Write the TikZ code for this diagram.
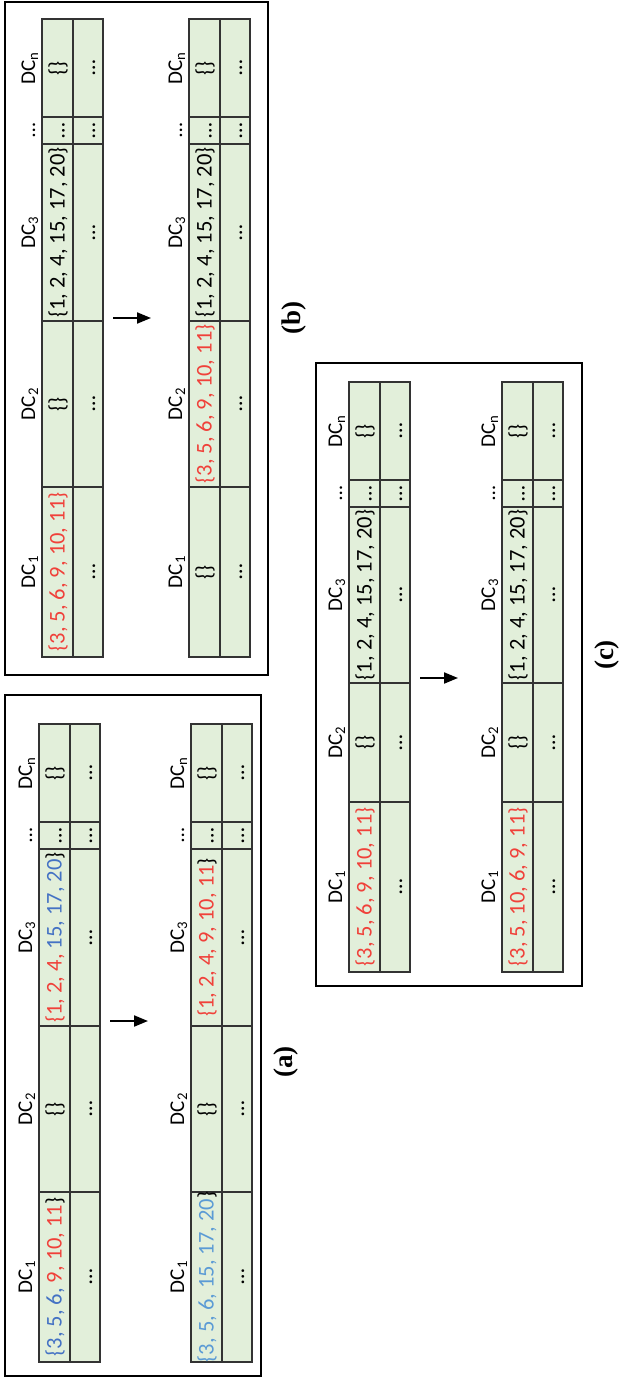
\documentclass[tikz,border=0pt]{standalone}
\usepackage{fontspec}
\setmainfont{Carlito}
\newfontfamily\capfont{Liberation Serif}
\usetikzlibrary{arrows.meta}
\definecolor{cellgreen}{HTML}{E2EFDA}
\definecolor{setred}{HTML}{F0413A}
\definecolor{setblue}{HTML}{4472C4}
\definecolor{setlblue}{HTML}{5B9BD5}
\definecolor{gridgray}{HTML}{333333}
\tikzset{
 cellbox/.style={fill=cellgreen,draw=gridgray,line width=1.3pt},
 cellline/.style={draw=gridgray,line width=1.3pt},
 panel/.style={draw=black,line width=2.8pt},
 dclab/.style={rotate=90,anchor=base,inner sep=0pt,font=\fontsize{21}{21}\selectfont},
 cellval/.style={rotate=90,anchor=base,inner sep=0pt,font=\fontsize{22.5}{22.5}\selectfont},
 panelcap/.style={rotate=90,inner sep=0pt,font=\capfont\bfseries\fontsize{27}{27}\selectfont},
 flow/.style={line width=2pt,-{Triangle[length=14pt,width=11pt]}},
}
% #1 name, #2 left x, #3 top y, #4 DC3/DC2 border, #5 DC2/DC1 border, #6 bottom y, #7 DC1, #8 DC2, #9 DC3
\newcommand\DCtab[9]{%
 \pgfmathsetmacro\dcM{#2+31}%
 \pgfmathsetmacro\dcR{#2+61}%
 \pgfmathsetmacro\dcA{#3+98}%
 \pgfmathsetmacro\dcB{#3+125}%
 \pgfmathsetmacro\dcLab{#2-7}%
 \pgfmathsetmacro\dcRa{#2+22.5}%
 \pgfmathsetmacro\dcRb{#2+53}%
 \pgfmathsetmacro\dcCn{(#3+\dcA)/2}%
 \pgfmathsetmacro\dcCd{(\dcA+\dcB)/2}%
 \pgfmathsetmacro\dcCc{(\dcB+#4)/2}%
 \pgfmathsetmacro\dcCb{(#4+#5)/2}%
 \pgfmathsetmacro\dcCa{(#5+#6)/2}%
 \draw[cellbox] (#2,#3) rectangle (\dcR,#6);
 \draw[cellline] (\dcM,#3) -- (\dcM,#6);
 \foreach \yy in {\dcA,\dcB,#4,#5} {\draw[cellline] (#2,\yy) -- (\dcR,\yy);}
 \node[dclab] (#1-h1) at (\dcLab,\dcCa) {DC\textsubscript{1}};
 \node[dclab] (#1-h2) at (\dcLab,\dcCb) {DC\textsubscript{2}};
 \node[dclab] (#1-h3) at (\dcLab,\dcCc) {DC\textsubscript{3}};
 \node[dclab] (#1-hd) at (\dcLab,\dcCd) {…};
 \node[dclab] (#1-hn) at (\dcLab,\dcCn) {DC\textsubscript{n}};
 \node[cellval] (#1-v1) at (\dcRa,\dcCa) {#7};
 \node[cellval] (#1-v2) at (\dcRa,\dcCb) {#8};
 \node[cellval] (#1-v3) at (\dcRa,\dcCc) {#9};
 \node[cellval] (#1-vd) at (\dcRa,\dcCd) {…};
 \node[cellval] (#1-vn) at (\dcRa,\dcCn) {\{\}};
 \node[cellval] (#1-w1) at (\dcRb,\dcCa) {…};
 \node[cellval] (#1-w2) at (\dcRb,\dcCb) {…};
 \node[cellval] (#1-w3) at (\dcRb,\dcCc) {…};
 \node[cellval] (#1-wd) at (\dcRb,\dcCd) {…};
 \node[cellval] (#1-wn) at (\dcRb,\dcCn) {…};
}
\begin{document}
\begin{tikzpicture}[x=1pt,y=-1pt]
\useasboundingbox (0,0) rectangle (619,1380);
% panel (b)
\draw[panel] (5,2) rectangle (268,675);
\DCtab{b1}{42}{19}{321}{487}{657}{\textcolor{setred}{\{3, 5, 6, 9, 10, 11\}}}{\{\}}{\{1, 2, 4, 15, 17, 20\}}
\DCtab{b2}{189}{19}{321}{487}{657}{\{\}}{\textcolor{setred}{\{3, 5, 6, 9, 10, 11\}}}{\{1, 2, 4, 15, 17, 20\}}
\coordinate (bS) at (113,318);
\coordinate (bE) at (151,318);
\draw[flow] (bS) -- (bE);
\node[panelcap] (bcap) at (294,318) {(b)};
% panel (a)
\draw[panel] (5,695) rectangle (261,1376);
\DCtab{a1}{39}{724}{1026}{1192}{1362}{\textcolor{setblue}{\{3, 5, 6,} \textcolor{setred}{9, 10, 11}\}}{\{\}}{\textcolor{setred}{\{1, 2, 4,} \textcolor{setblue}{15, 17, 20}\}}
\DCtab{a2}{191}{724}{1026}{1192}{1362}{\textcolor{setlblue}{\{3, 5, 6, 15, 17, 20}\}}{\{\}}{\textcolor{setred}{\{1, 2, 4, 9, 10, 11}\}}
\coordinate (aS) at (110,1021);
\coordinate (aE) at (148,1021);
\draw[flow] (aS) -- (aE);
\node[panelcap] (acap) at (286,1062) {(a)};
% panel (c)
\draw[panel] (316,363) rectangle (582,986);
\DCtab{c1}{349}{382}{683}{802}{972}{\textcolor{setred}{\{3, 5, 6, 9, 10, 11\}}}{\{\}}{\{1, 2, 4, 15, 17, 20\}}
\DCtab{c2}{502}{382}{683}{802}{972}{\textcolor{setred}{\{3, 5, 10, 6, 9, 11\}}}{\{\}}{\{1, 2, 4, 15, 17, 20\}}
\coordinate (cS) at (420,678);
\coordinate (cE) at (458,678);
\draw[flow] (cS) -- (cE);
\node[panelcap] (ccap) at (607,655) {(c)};
\end{tikzpicture}
\end{document}
